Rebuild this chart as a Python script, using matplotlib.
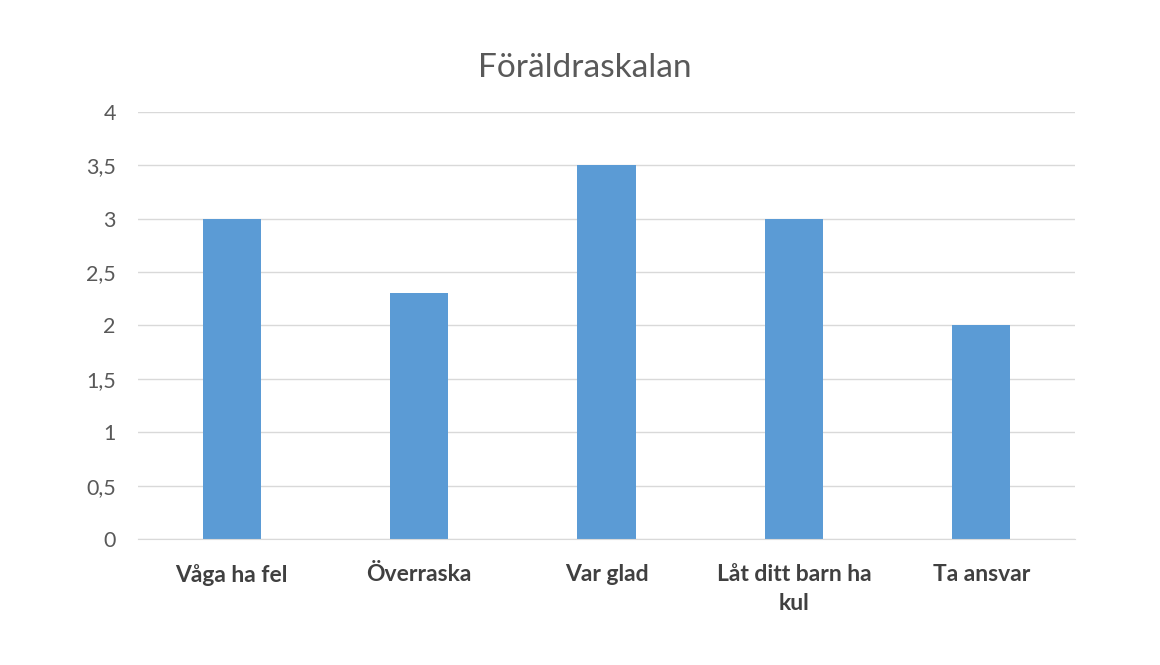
import matplotlib.pyplot as plt

categories = ['Våga ha fel', 'Överraska', 'Var glad', 'Låt ditt barn ha\nkul', 'Ta ansvar']
values = [3.0, 2.3, 3.5, 3.0, 2.0]
yticks = [0, 0.5, 1, 1.5, 2, 2.5, 3, 3.5, 4]
ytick_labels = ['0', '0,5', '1', '1,5', '2', '2,5', '3', '3,5', '4']

plt.rcParams['font.family'] = ['Lato', 'DejaVu Sans']

fig = plt.figure(figsize=(11.6, 6.65), dpi=100)
ax = fig.add_axes([0.119, 0.1895, 0.8077, 0.6421])

x = range(len(categories))
ax.bar(x, values, width=0.31, color='#5B9BD5', zorder=3)

ax.set_xlim(-0.5, len(categories) - 0.5)
ax.set_ylim(0, 4)
ax.set_yticks(yticks)
ax.set_yticklabels(ytick_labels, fontsize=15.5, color='#595959')
ax.set_xticks(list(x))
ax.set_xticklabels(categories, fontsize=16.5, fontweight='bold', color='#404040',
                   linespacing=1.45, va='top')
ax.tick_params(axis='y', length=0, pad=16)
ax.tick_params(axis='x', length=0, pad=18)

ax.grid(axis='y', color='#D9D9D9', linewidth=1, zorder=0)
for s in ['top', 'right', 'left']:
    ax.spines[s].set_visible(False)
ax.spines['bottom'].set_color('#D9D9D9')
ax.spines['bottom'].set_zorder(4)

fig.text(0.504, 0.898, 'Föräldraskalan', ha='center', va='center',
         fontsize=24, color='#595959')

fig.savefig('out.png', dpi=100, facecolor='white')
